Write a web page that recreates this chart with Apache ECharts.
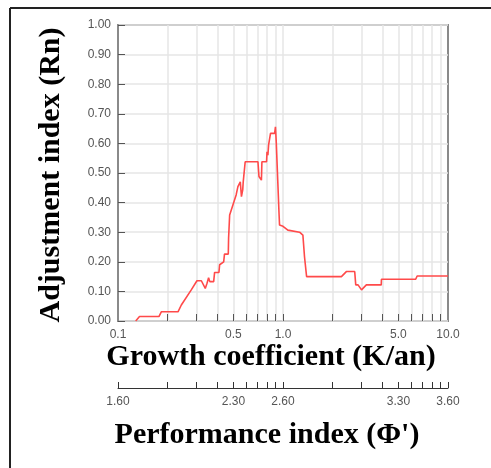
<!DOCTYPE html>
<html><head><meta charset="utf-8">
<script src="https://cdn.jsdelivr.net/npm/echarts@6/dist/echarts.min.js"></script>
<style>html,body{margin:0;padding:0;background:#fff}#c{width:491px;height:468px}</style>
</head><body><div id="c"></div>
<script>
// Growth coefficient K (1/year) and adjustment index Rn
const growthK = [0.128, 0.135, 0.177, 0.183, 0.231, 0.242, 0.278, 0.301, 0.32, 0.338, 0.346, 0.354, 0.36, 0.38, 0.385, 0.409, 0.413, 0.437, 0.442, 0.466, 0.468, 0.475, 0.497, 0.52, 0.533, 0.551, 0.56, 0.57, 0.574, 0.59, 0.705, 0.715, 0.74, 0.745, 0.795, 0.80, 0.81, 0.818, 0.838, 0.84, 0.89, 0.90, 0.91, 0.93, 0.945, 0.953, 1.0, 1.07, 1.26, 1.32, 1.35, 1.39, 2.26, 2.42, 2.72, 2.76, 2.85, 2.99, 3.2, 3.94, 3.95, 6.37, 6.5, 10];
const rnValues = [0, 0.015, 0.015, 0.031, 0.031, 0.054, 0.105, 0.136, 0.136, 0.11, 0.127, 0.146, 0.133, 0.133, 0.164, 0.164, 0.19, 0.2, 0.226, 0.226, 0.28, 0.358, 0.392, 0.426, 0.454, 0.47, 0.42, 0.443, 0.47, 0.538, 0.538, 0.488, 0.476, 0.538, 0.538, 0.572, 0.56, 0.595, 0.6, 0.634, 0.634, 0.656, 0.606, 0.47, 0.37, 0.324, 0.32, 0.307, 0.30, 0.29, 0.217, 0.15, 0.15, 0.167, 0.167, 0.122, 0.122, 0.105, 0.122, 0.122, 0.141, 0.141, 0.152, 0.152];
// tick values
const kTicks = [0.2, 0.3, 0.4, 0.5, 0.6, 0.7, 0.8, 0.9, 1, 2, 3, 4, 5, 6, 7, 8, 9];
const kLabels = [0.1, 0.5, 1, 5, 10];
const kMin = 0.1, kMax = 10;
const phiLabels = [1.6, 2.3, 2.6, 3.3, 3.6];
const phiOffset = 2.6; // Phi' = log10(K) + 2.6
const rnMin = 0, rnMax = 1, rnStep = 0.1;

const serif = "'Liberation Serif','Times New Roman',serif";
const sans = "'Liberation Sans',Arial,sans-serif";
const gridLine = {show: true, lineStyle: {color: '#e6e6e6', width: 1.5}};

const chart = echarts.init(document.getElementById('c'), null, {renderer: 'canvas'});
chart.setOption({
  animation: false,
  backgroundColor: '#fff',
  grid: [
    {left: 118, top: 25, width: 330, height: 296, show: true, borderColor: '#8a8a8a', borderWidth: 2, backgroundColor: 'transparent'},
    {left: 118, top: 381, width: 330, height: 7}
  ],
  xAxis: [
    {type: 'log', logBase: 10, min: kMin, max: kMax, gridIndex: 0, show: false},
    {type: 'value', gridIndex: 0, position: 'bottom', min: Math.log10(kMin), max: Math.log10(kMax),
      axisLine: {show: false, onZero: false},
      axisTick: {show: true, inside: true, length: 7, customValues: kTicks.map(Math.log10), lineStyle: {color: '#555', width: 1}},
      axisLabel: {customValues: kLabels.map(Math.log10), formatter: v => Math.pow(10, v).toFixed(1), color: '#555', fontSize: 12, fontFamily: sans, margin: 8},
      splitLine: gridLine},
    {type: 'value', gridIndex: 1, position: 'bottom', min: phiLabels[0], max: phiLabels[phiLabels.length - 1],
      axisLine: {show: true, onZero: false, lineStyle: {color: '#333', width: 1}},
      axisTick: {show: true, inside: true, length: 6, customValues: [kMin].concat(kTicks, [kMax]).map(k => phiOffset + Math.log10(k)), lineStyle: {color: '#333', width: 1}},
      axisLabel: {customValues: phiLabels, formatter: v => v.toFixed(2), color: '#555', fontSize: 12, fontFamily: sans, margin: 8},
      splitLine: {show: false}}
  ],
  yAxis: [
    {type: 'value', gridIndex: 0, min: rnMin, max: rnMax, interval: rnStep, position: 'left',
      axisLine: {show: true, onZero: false, lineStyle: {color: '#8a8a8a', width: 2}},
      axisTick: {show: true, inside: true, length: 7, lineStyle: {color: '#555', width: 1}},
      axisLabel: {formatter: v => v.toFixed(2), color: '#555', fontSize: 12, fontFamily: sans, margin: 7},
      splitLine: gridLine},
    {type: 'value', gridIndex: 1, min: 0, max: 1, show: false}
  ],
  series: [{
    type: 'line', xAxisIndex: 0, yAxisIndex: 0,
    data: growthK.map((k, i) => [k, rnValues[i]]),
    symbol: 'none', showSymbol: false,
    lineStyle: {color: '#ff4a4a', width: 1.6}
  }],
  graphic: [
    {type: 'line', shape: {x1: 10, y1: 8, x2: 491, y2: 8}, style: {stroke: '#222', lineWidth: 2}},
    {type: 'line', shape: {x1: 10, y1: 8, x2: 10, y2: 468}, style: {stroke: '#222', lineWidth: 2}},
    {type: 'text', x: 51, y: 175, rotation: Math.PI / 2,
      style: {text: 'Adjustment index (Rn)', font: 'bold 30px ' + serif, fill: '#000', textAlign: 'center', textVerticalAlign: 'middle'}},
    {type: 'text', x: 271, y: 357,
      style: {text: 'Growth coefficient (K/an)', font: 'bold 30px ' + serif, fill: '#000', textAlign: 'center', textVerticalAlign: 'middle'}},
    {type: 'text', x: 267, y: 435,
      style: {text: "Performance index (\u03A6')", font: 'bold 30px ' + serif, fill: '#000', textAlign: 'center', textVerticalAlign: 'middle'}}
  ]
});
</script></body></html>
